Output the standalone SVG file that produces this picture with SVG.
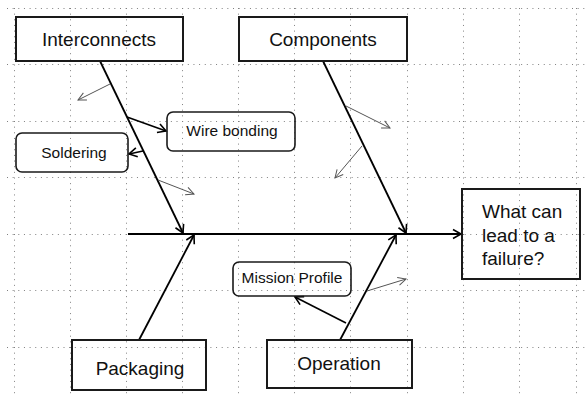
<svg xmlns="http://www.w3.org/2000/svg" width="585" height="394" viewBox="0 0 585 394">
<defs>
<style>
.grid line{stroke:#808080;stroke-width:1;stroke-dasharray:1 4.65}
.box{fill:none;stroke:#1a1a1a;stroke-width:2}
.rbox{fill:none;stroke:#1a1a1a;stroke-width:1.6}
.big{font-family:"Liberation Sans",Arial,sans-serif;font-size:19px;fill:#111;text-anchor:middle}
.small{font-family:"Liberation Sans",Arial,sans-serif;font-size:15.5px;fill:#111;text-anchor:middle}
.bone{stroke:#000;stroke-width:1.8;fill:none;marker-end:url(#ah)}
.sub{stroke:#000;stroke-width:1.6;fill:none;marker-end:url(#ah)}
.thin{stroke:#555;stroke-width:1;fill:none;marker-end:url(#ahs)}
</style>
<marker id="ah" markerWidth="12" markerHeight="12" refX="10" refY="6" orient="auto" markerUnits="userSpaceOnUse">
<path d="M2,1.5 L10,6 L2,10.5" fill="none" stroke="#000" stroke-width="1.6"/>
</marker>
<marker id="ahs" markerWidth="12" markerHeight="12" refX="10" refY="6" orient="auto" markerUnits="userSpaceOnUse">
<path d="M2,2 L10,6 L2,10" fill="none" stroke="#555" stroke-width="1"/>
</marker>
</defs>
<rect width="585" height="394" fill="#fff"/>
<g class="grid">
<line x1="7" y1="8.5" x2="585" y2="8.5"/>
<line x1="7" y1="64.5" x2="585" y2="64.5"/>
<line x1="7" y1="121.5" x2="585" y2="121.5"/>
<line x1="7" y1="177.5" x2="585" y2="177.5"/>
<line x1="7" y1="234.5" x2="585" y2="234.5"/>
<line x1="7" y1="290.5" x2="585" y2="290.5"/>
<line x1="7" y1="347.5" x2="585" y2="347.5"/>
<line x1="14.5" y1="8" x2="14.5" y2="394"/>
<line x1="70.5" y1="8" x2="70.5" y2="394"/>
<line x1="126.5" y1="8" x2="126.5" y2="394"/>
<line x1="182.5" y1="8" x2="182.5" y2="394"/>
<line x1="238.5" y1="8" x2="238.5" y2="394"/>
<line x1="294.5" y1="8" x2="294.5" y2="394"/>
<line x1="350.5" y1="8" x2="350.5" y2="394"/>
<line x1="407.5" y1="8" x2="407.5" y2="394"/>
<line x1="463.5" y1="8" x2="463.5" y2="394"/>
<line x1="519.5" y1="8" x2="519.5" y2="394"/>
<line x1="576.5" y1="8" x2="576.5" y2="394"/>
</g>
<g id="connectors">
<line class="bone" x1="128" y1="234" x2="461" y2="234"/>
<line class="bone" x1="100" y1="61" x2="183" y2="233"/>
<line class="bone" x1="323" y1="61" x2="406" y2="233"/>
<line class="bone" x1="139" y1="340" x2="194" y2="235"/>
<line class="bone" x1="340" y1="340" x2="396" y2="235"/>
<line class="thin" x1="110" y1="84" x2="78" y2="100"/>
<line class="sub" x1="127" y1="117" x2="166" y2="131"/>
<line class="sub" x1="143" y1="151" x2="129" y2="154"/>
<line class="thin" x1="158" y1="180" x2="194" y2="194"/>
<line class="thin" x1="346" y1="106" x2="390" y2="128"/>
<line class="thin" x1="362" y1="146" x2="335" y2="178"/>
<line class="sub" x1="346" y1="323" x2="295" y2="297"/>
<line class="thin" x1="367" y1="291" x2="406" y2="279"/>
</g>
<g id="interconnects">
<rect class="box" x="16" y="17" width="167" height="44"/>
<text class="big" x="99" y="46">Interconnects</text>
</g>
<g id="components">
<rect class="box" x="239" y="17" width="168" height="44"/>
<text class="big" x="323" y="46">Components</text>
</g>
<g id="wire-bonding">
<rect class="rbox" x="167" y="112" width="128" height="39" rx="6"/>
<text class="small" x="232" y="136">Wire bonding</text>
</g>
<g id="soldering">
<rect class="rbox" x="16" y="133" width="112" height="39" rx="6"/>
<text class="small" x="74" y="158">Soldering</text>
</g>
<g id="failure">
<rect class="box" x="462" y="189" width="118" height="90"/>
<text font-family="Liberation Sans, Arial, sans-serif" font-size="19" fill="#111">
<tspan x="482" y="218">What can</tspan>
<tspan x="482" y="242">lead to a</tspan>
<tspan x="482" y="265">failure?</tspan>
</text>
</g>
<g id="mission-profile">
<rect class="rbox" x="233" y="262" width="118" height="34" rx="6"/>
<text class="small" x="292" y="283">Mission Profile</text>
</g>
<g id="packaging">
<rect class="box" x="72" y="340" width="134" height="50"/>
<text class="big" x="140" y="375">Packaging</text>
</g>
<g id="operation">
<rect class="box" x="267" y="340" width="145" height="48"/>
<text class="big" x="339" y="370">Operation</text>
</g>
</svg>
